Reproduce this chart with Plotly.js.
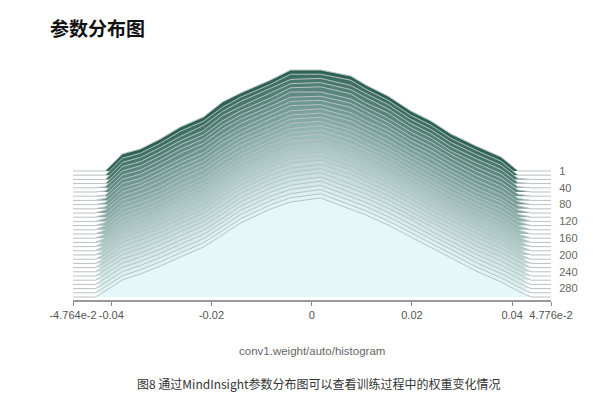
<!DOCTYPE html>
<html><head><meta charset="utf-8">
<script src="https://cdn.plot.ly/plotly-3.0.1.min.js"></script>
<style>body{margin:0;background:#fff}</style>
</head><body><div id="chart" style="width:616px;height:404px"></div>
<script>
// training steps (one ridge each, back to front)
const steps = [1,10,20,30,40,50,60,70,80,90,100,110,120,130,140,150,160,170,180,190,200,210,220,230,240,250,260,270,280,290,300];
// histogram bin positions (weight value)
const bins = [-0.04764,-0.0432,-0.0412,-0.0378,-0.0342,-0.0302,-0.0262,-0.0216,-0.0178,-0.0142,-0.0082,-0.0042,0.0018,0.0078,0.0108,0.0152,0.0198,0.0238,0.0278,0.0328,0.0378,0.0412,0.0438,0.04776];
// counts per step
const s1   = [0,0,0,17,22,32,44,54,69,78,91,101,101,95,86,75,60,50,37,25,14,0,0,0];
const s10  = [0,0,0,17,22,32,44,54,68,78,91,101,101,95,86,75,60,50,37,25,14,0,0,0];
const s20  = [0,0,0,17,22,32,43,54,68,78,91,100,101,94,86,75,60,50,37,25,14,1,0,0];
const s30  = [0,0,0,17,22,32,43,53,68,77,91,100,101,94,86,75,60,50,37,25,14,1,0,0];
const s40  = [0,0,1,17,22,32,43,53,67,77,90,100,101,94,85,75,60,50,37,25,14,1,0,0];
const s50  = [0,0,1,17,22,32,43,53,67,77,90,100,100,93,85,74,60,50,38,25,14,2,0,0];
const s60  = [0,0,1,17,22,32,43,53,67,77,90,99,100,93,85,74,60,50,38,25,14,2,0,0];
const s70  = [0,0,2,17,22,32,42,53,66,77,90,99,100,93,85,74,60,50,38,25,14,2,0,0];
const s80  = [0,0,2,17,22,32,42,52,66,76,90,99,100,92,84,74,60,50,38,25,14,3,0,0];
const s90  = [0,0,2,17,23,32,42,52,66,76,90,98,100,92,84,74,60,50,38,25,14,3,0,0];
const s100 = [0,0,3,17,23,32,42,52,65,76,89,98,100,92,84,73,60,49,38,25,14,3,0,0];
const s110 = [0,0,3,17,23,31,42,52,65,76,89,98,100,91,84,73,60,49,38,25,15,3,0,0];
const s120 = [0,0,3,17,23,31,42,52,65,76,89,98,100,91,84,73,60,49,38,25,15,4,0,0];
const s130 = [0,0,3,17,23,31,41,51,65,75,89,97,100,91,83,73,60,49,38,26,15,4,0,0];
const s140 = [0,0,4,17,23,31,41,51,64,75,89,97,100,91,83,73,60,49,38,26,15,4,0,0];
const s150 = [0,0,4,17,23,31,41,51,64,75,89,97,100,90,83,73,60,49,38,26,15,4,0,0];
const s160 = [0,0,4,17,23,31,41,51,64,75,89,97,99,90,83,73,60,49,38,26,15,4,0,0];
const s170 = [0,0,4,17,23,31,41,51,64,75,88,96,99,90,83,72,60,49,38,26,15,5,0,0];
const s180 = [0,0,5,17,23,31,41,51,63,75,88,96,99,90,83,72,60,49,39,26,15,5,0,0];
const s190 = [0,0,5,17,23,31,41,51,63,75,88,96,99,89,82,72,60,49,39,26,15,5,0,0];
const s200 = [0,0,5,17,23,31,40,50,63,74,88,96,99,89,82,72,60,49,39,26,15,5,0,0];
const s210 = [0,0,5,17,23,31,40,50,63,74,88,96,99,89,82,72,60,49,39,26,15,5,0,0];
const s220 = [0,0,5,17,23,31,40,50,63,74,88,95,99,89,82,72,60,49,39,26,15,6,0,0];
const s230 = [0,0,6,17,23,31,40,50,62,74,88,95,99,89,82,72,60,49,39,26,15,6,0,0];
const s240 = [0,0,6,17,23,31,40,50,62,74,88,95,99,88,82,72,60,49,39,26,15,6,0,0];
const s250 = [0,0,6,17,23,31,40,50,62,74,88,95,99,88,82,72,60,49,39,26,15,6,0,0];
const s260 = [0,0,6,17,23,31,40,50,62,74,88,95,99,88,82,72,61,49,39,26,15,6,0,0];
const s270 = [0,0,6,17,23,31,40,50,62,74,88,95,99,88,82,72,60,49,39,26,15,6,0,0];
const s280 = [0,0,6,17,23,31,40,50,62,74,88,95,99,88,82,72,60,49,39,26,15,6,0,0];
const s290 = [0,0,6,17,23,31,40,50,62,74,88,95,99,88,82,72,60,49,39,26,15,6,0,0];
const s300 = [0,0,6,17,23,31,40,50,62,74,88,95,99,88,82,72,60,49,39,26,15,6,0,0];
const ridges = [s1,s10,s20,s30,s40,s50,s60,s70,s80,s90,s100,s110,s120,s130,s140,s150,s160,s170,s180,s190,s200,s210,s220,s230,s240,s250,s260,s270,s280,s290,s300];
const stepTicks = [1,40,80,120,160,200,240,280];
const xTickVals = [-0.04764,-0.04,-0.02,0,0.02,0.04,0.04776];
const xTickText = ['-4.764e-2','-0.04','-0.02','0','0.02','0.04','4.776e-2'];

const n = steps.length;
const base = i => 3 + (n - 1 - i) * 4.2;
const dark = [46,98,87], light = [228,248,249];
function col(i){
  const t = Math.pow(i/(n-1), 0.72);
  const c = dark.map((d,k)=>Math.round(d + (light[k]-d)*t));
  return 'rgb('+c.join(',')+')';
}
const traces = [];
ridges.forEach((h,i)=>{
  const b = base(i);
  const top = h.map(v=>v+b);
  traces.push({x: bins.concat(bins.slice().reverse()), y: top.concat(bins.map(()=>b)),
    type:'scatter', mode:'lines', fill:'toself', fillcolor: col(i), line:{width:0}, hoverinfo:'skip', showlegend:false});
  traces.push({x: bins, y: top, type:'scatter', mode:'lines',
    line:{color:'rgb(184,194,192)', width:1}, hoverinfo:'skip', showlegend:false});
});

const layout = {
  width:616, height:404,
  margin:{l:73, r:65, t:68, b:104},
  paper_bgcolor:'#fff', plot_bgcolor:'#fff',
  font:{family:'Liberation Sans, Arial, sans-serif', size:11, color:'#555'},
  title:{text:'参数分布图', x:50/616, xref:'container', xanchor:'left', y:1-29/404, yref:'container', yanchor:'middle',
    font:{family:'Noto Sans CJK SC', size:19, weight:'bold', color:'#111'}},
  xaxis:{range:[-0.04764,0.04776], tickvals:xTickVals, ticktext:xTickText, showgrid:false, zeroline:false,
    showline:true, linecolor:'#999', linewidth:1.5, ticks:'outside', ticklen:4, tickcolor:'#888',
    tickfont:{size:11, color:'#555'}, fixedrange:true},
  yaxis:{range:[0,232], side:'right', showgrid:false, zeroline:false, showline:false,
    tickvals: stepTicks.map(s=>base(steps.indexOf(s))), ticktext: stepTicks.map(String),
    ticks:'outside', ticklen:5, tickcolor:'rgba(0,0,0,0)', tickfont:{size:11, color:'#666'}, fixedrange:true},
  annotations:[
    {text:'conv1.weight/auto/histogram', xref:'paper', yref:'paper', x:0.5, y:(300-351)/232, xanchor:'center', yanchor:'middle',
      showarrow:false, font:{size:11.5, color:'#666'}},
    {text:'图8 通过MindInsight参数分布图可以查看训练过程中的权重变化情况', xref:'paper', yref:'paper', x:(318-73)/478, y:(300-383)/232,
      xanchor:'center', yanchor:'middle', showarrow:false, font:{family:'Noto Sans CJK SC', size:12, color:'#333'}}
  ]
};
Plotly.newPlot('chart', traces, layout, {staticPlot:true, displayModeBar:false});
</script></body></html>
